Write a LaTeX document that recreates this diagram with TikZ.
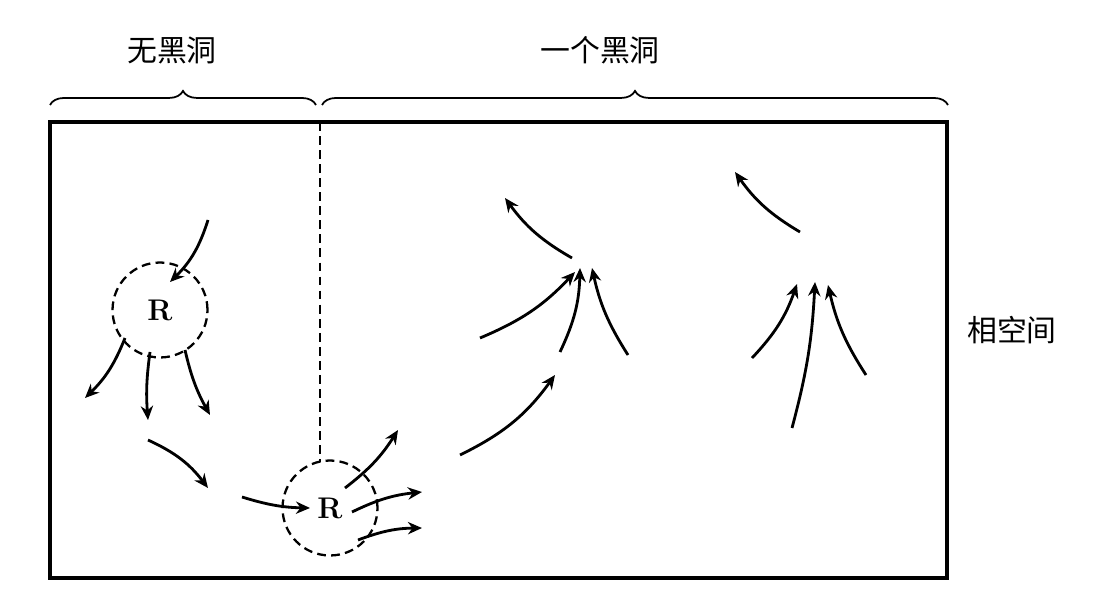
\documentclass[tikz,border=0pt]{standalone}
\usepackage{fontspec}
\newfontfamily\cjk{Noto Sans CJK SC}
\usetikzlibrary{decorations.pathreplacing,arrows.meta}
\begin{document}
\begin{tikzpicture}[x=0.02cm,y=-0.02cm,line width=1.6pt,
    flow/.style={-{Stealth[length=8pt,width=7pt]}},
    region/.style={circle,draw,dash pattern=on 5pt off 3pt,line width=1.3pt,minimum size=1.9cm,font=\bfseries\fontsize{17}{17}\selectfont},
    label/.style={font=\cjk\fontsize{17}{17}\selectfont},
    brc/.style={decorate,decoration={brace,amplitude=8pt},line width=1pt}]
\useasboundingbox (0,0) rectangle (1116,604);
% phase space box
\draw[line width=1.8pt] (50,122) rectangle (947,578);
\draw[dash pattern=on 5pt off 3pt,line width=1.6pt] (320,122) -- (320,462);
\node[label] (space) at (1012,330) {相空间};
% braces
\draw[brc] (50,105) -- (316,105);
\draw[brc] (322,105) -- (948,105);
\node[label] (none) at (172,50) {无黑洞};
\node[label] (one) at (600,50) {一个黑洞};
% regions
\node[region] (r1) at (160,310) {R};
\node[region] (r2) at (330,508) {R};
% flow lines (positive = bend right in picture)
\foreach \sx/\sy/\ex/\ey/\ang [count=\i] in {
    208/220/170/282/14, 125/338/85/398/12,
    150/352/148/420/-6, 185/350/210/415/-8,
    148/440/208/488/14, 242/497/310/508/-8,
    345/488/398/430/-10, 352/512/422/492/10,
    358/540/422/528/10, 460/455/555/375/-14,
    480/338/575/272/-12, 560/352/580/268/-12,
    628/355/592/268/10, 572/258/505/198/12,
    800/232/735/172/12, 752/358/797/284/-12,
    792/428/815/282/-6, 866/375/828/285/10} {
  \coordinate (a\i) at (\sx,\sy);
  \coordinate (b\i) at (\ex,\ey);
  \draw[flow] (a\i) to[bend left=\ang] (b\i);
}
\end{tikzpicture}
\end{document}
